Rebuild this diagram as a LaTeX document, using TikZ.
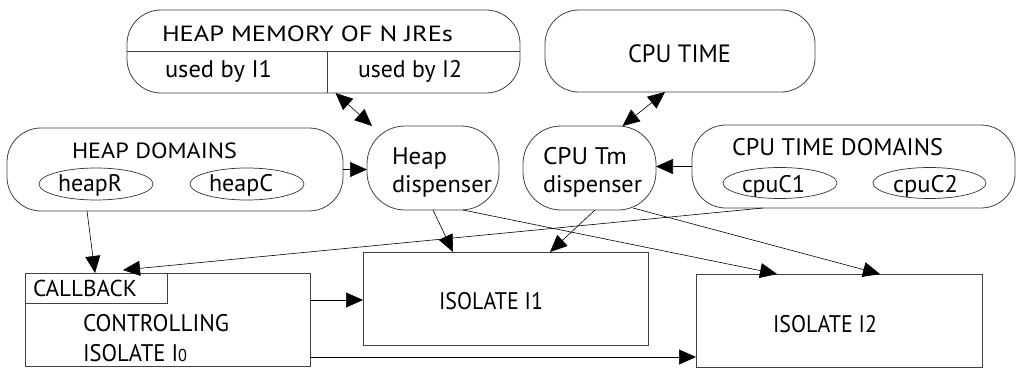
\documentclass[tikz,border=0pt]{standalone}
\usepackage{fontspec}
\setmainfont{PT Sans}
\usetikzlibrary{arrows.meta,shapes.geometric}
\newcommand{\fitw}[2]{\resizebox{#1}{\height}{#2}}
\begin{document}
\begin{tikzpicture}[x=1pt,y=-1pt,
  every node/.style={inner sep=0pt, outer sep=0pt, font=\fontsize{24}{28}\selectfont},
  roundbox/.style={draw=black!75, line width=0.8pt, rounded corners=34pt, minimum width=#1},
  sqbox/.style={draw=black!75, line width=0.8pt, rectangle},
  oval/.style={draw=black!80, line width=0.7pt, ellipse, minimum width=114pt, minimum height=32pt},
  lbl/.style={draw=none, anchor=base west},
  conn/.style={line width=0.6pt, -{Triangle[length=17pt,width=15pt]}},
  biconn/.style={line width=0.6pt, {Triangle[length=17pt,width=15pt]}-{Triangle[length=17pt,width=15pt]}}
]
\useasboundingbox (0,0) rectangle (1016,367);

% HEAP MEMORY OF N JREs
\node[roundbox=393pt, minimum height=83pt] (hm) at (323.5,51.5) {};
\draw[black!75, line width=0.8pt] (hm.west) -- (hm.east);
\draw[black!75, line width=0.8pt] ([xshift=3.5pt]hm.center) -- ([xshift=3.5pt]hm.south);
\node[lbl, font=\fontsize{22}{26}\selectfont] (hmt) at (162,41) {\fitw{291pt}{HEAP MEMORY OF N JREs}};
\node[lbl] (hmu1) at (165,77) {\fitw{107pt}{used by I1}};
\node[lbl] (hmu2) at (358,77) {\fitw{104pt}{used by I2}};

% CPU TIME
\node[roundbox=270pt, minimum height=82pt] (ct) at (680,51) {};
\node[lbl, font=\fontsize{25}{28}\selectfont] (ctt) at (628,62) {\fitw{103pt}{CPU TIME}};

% HEAP DOMAINS
\node[roundbox=336pt, minimum height=83pt] (hd) at (175,169.5) {};
\node[lbl, font=\fontsize{22}{26}\selectfont] (hdt) at (72,158) {\fitw{165pt}{HEAP DOMAINS}};
\node[oval] (hr) at (96,184) {};
\node[oval] (hc) at (247,184) {};
\node[lbl] (hrt) at (58,191) {\fitw{64pt}{heapR}};
\node[lbl] (hct) at (209,191) {\fitw{64pt}{heapC}};

% Heap dispenser
\node[roundbox=132pt, minimum height=84pt, rounded corners=38pt] (hdisp) at (433,168) {};
\node[lbl] (hdt1) at (392,164) {\fitw{55pt}{Heap}};
\node[lbl] (hdt2) at (392,192) {\fitw{100pt}{dispenser}};

% CPU Tm dispenser
\node[roundbox=133pt, minimum height=84pt, rounded corners=38pt] (cdisp) at (589.5,168) {};
\node[lbl] (cdt1) at (543,164) {\fitw{84pt}{CPU Tm}};
\node[lbl] (cdt2) at (543,192) {\fitw{99pt}{dispenser}};

% CPU TIME DOMAINS
\node[roundbox=323pt, minimum height=83pt] (cd) at (853.5,166.5) {};
\node[lbl] (cdt) at (732,155) {\fitw{211pt}{CPU TIME DOMAINS}};
\node[oval, minimum height=31pt] (c1) at (780,183) {};
\node[oval, minimum width=113pt, minimum height=31pt] (c2) at (929.5,183) {};
\node[lbl] (c1t) at (742,192) {\fitw{63pt}{cpuC1}};
\node[lbl] (c2t) at (893,192) {\fitw{65pt}{cpuC2}};

% CALLBACK / CONTROLLING ISOLATE I0
\node[sqbox, minimum width=285pt, minimum height=93pt] (cb) at (167.5,319.5) {};
\node[sqbox, minimum width=142pt, minimum height=30pt, anchor=north west] (cbl) at (cb.north west) {};
\node[lbl, font=\fontsize{23}{26}\selectfont] (cblt) at (33,296) {\fitw{104pt}{CALLBACK}};
\node[lbl] (cbt1) at (83,331) {\fitw{146pt}{CONTROLLING}};
\node[lbl] (cbt2) at (83,361) {\fitw{104pt}{ISOLATE I\scalebox{0.72}{0}}};

% ISOLATE I1
\node[sqbox, minimum width=285pt, minimum height=93pt] (i1) at (505.5,298.5) {};
\node[lbl] (i1t) at (439,309) {\fitw{104pt}{ISOLATE I1}};

% ISOLATE I2
\node[sqbox, minimum width=286pt, minimum height=93pt] (i2) at (839,320.5) {};
\node[lbl] (i2t) at (773,332) {\fitw{104pt}{ISOLATE I2}};

% connectors
\draw[biconn] ([xshift=12pt]hm.south) -- ([xshift=5pt]hdisp.north west);
\draw[biconn] ([xshift=-15pt]ct.south) -- ([xshift=33pt]cdisp.north);
\draw[conn] (hd.east) -- (hd.east -| hdisp.west);
\draw[conn] (cd.west) -- (cd.west -| cdisp.east);
\draw[conn] ([xshift=-88pt]hd.south) -- ([xshift=70pt]cb.north west);
\draw[conn] ([xshift=-90.5pt]cd.south) -- ([xshift=98pt,yshift=3pt]cb.north west);
\draw[conn] (hdisp.south) -- ([xshift=90pt]i1.north west);
\draw[conn] ([xshift=30pt]hdisp.south) -- ([xshift=81pt]i2.north west);
\draw[conn] ([xshift=5.5pt]cdisp.south) -- ([xshift=187pt]i1.north west);
\draw[conn] ([xshift=43.5pt,yshift=2pt]cdisp.south) -- ([xshift=184pt]i2.north west);
\draw[conn] ([yshift=19.5pt]cb.east) -- ([yshift=19.5pt]cb.east -| i1.west);
\draw[conn] ([yshift=-37.5pt]cb.east) -- ([yshift=-37.5pt]cb.east -| i2.west);
\end{tikzpicture}
\end{document}
